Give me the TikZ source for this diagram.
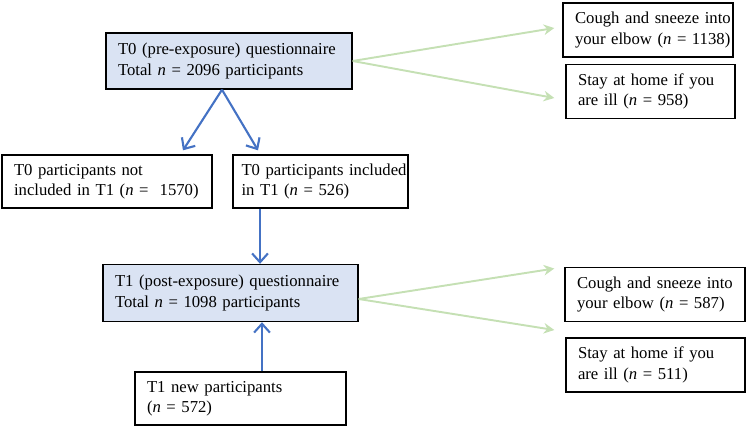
\documentclass[tikz,border=0pt]{standalone}
\usepackage{fontspec}
\setmainfont{Liberation Serif}
\usetikzlibrary{arrows.meta}

\definecolor{qfill}{RGB}{218,227,243}
\definecolor{flowblue}{RGB}{68,114,196}
\definecolor{flowgreen}{RGB}{197,224,180}

\tikzset{
  flowbox/.style={draw=black, line width=0.8pt, inner xsep=0.24cm, inner ysep=2pt,
    align=left, minimum height=1.08cm,
    execute at begin node={\rightskip=-1cm plus 1fil}},
  qbox/.style={flowbox, fill=qfill, minimum height=1.12cm},
  bluearrow/.style={draw=flowblue, line width=1.2pt, -{Straight Barb[length=5pt,width=9pt]}},
  greenarrow/.style={draw=flowgreen, line width=1.1pt, -{Stealth[length=6pt,width=6pt]}},
}

\begin{document}
\begin{tikzpicture}[x=0.02cm, y=-0.02cm, font=\fontsize{9.5}{11.6}\selectfont]
        \useasboundingbox (0,0) rectangle (750,430);

        % T0 questionnaire and its messages
        \node[qbox, text width=4.44cm] (tzero) at (229,61) {T0 (pre-exposure) questionnaire\\Total \textit{n} = 2096 participants};
        \node[flowbox, text width=2.92cm] (coughzero) at (648,30) {Cough and sneeze into\\your elbow (\textit{n} = 1138)};
        \node[flowbox, text width=2.90cm] (stayzero) at (650.5,91.5) {Stay at home if you\\are ill (\textit{n} = 958)};

        % Split of the T0 participants
        \node[flowbox, text width=3.72cm, minimum height=1.06cm] (notincl) at (107,181.5) {T0 participants not\\included in T1 (\textit{n} = \ 1570)};
        \node[flowbox, inner xsep=0.17cm, text width=3.16cm, minimum height=1.06cm] (incl) at (320.5,181.5) {T0 participants included\\in T1 (\textit{n} = 526)};

        % T1 questionnaire and its messages
        \node[qbox, text width=4.62cm, minimum height=1.14cm] (tone) at (230.5,293) {T1 (post-exposure) questionnaire\\Total \textit{n} = 1098 participants};
        \node[flowbox, text width=3.12cm] (coughone) at (655,294.5) {Cough and sneeze into\\your elbow (\textit{n} = 587)};
        \node[flowbox, text width=3.10cm] (stayone) at (655.5,365) {Stay at home if you\\are ill (\textit{n} = 511)};
        \node[flowbox, text width=3.74cm, minimum height=1.06cm] (tonenew) at (240.5,398.5) {T1 new participants\\(\textit{n} = 572)};

        % Blue arrows
        \draw[bluearrow] ([xshift=-0.14cm]tzero.south) -- ([xshift=1.52cm, yshift=0.08cm]notincl.north);
        \draw[bluearrow] ([xshift=-0.14cm]tzero.south) -- ([xshift=-1.25cm, yshift=0.08cm]incl.north);
        \draw[bluearrow] ([xshift=-1.21cm]incl.south) -- ([xshift=-1.21cm]incl.south |- tone.north);
        \draw[bluearrow] ([xshift=0.43cm]tonenew.north) -- ([xshift=0.43cm]tonenew.north |- tone.south);

        % Green arrows
        \draw[greenarrow] (tzero.east) -- ([xshift=-0.16cm, yshift=0.04cm]coughzero.west);
        \draw[greenarrow] (tzero.east) -- ([xshift=-0.22cm, yshift=-0.13cm]stayzero.west);
        \draw[greenarrow] ([yshift=-0.12cm]tone.east) -- ([xshift=-0.2cm, yshift=0.52cm]coughone.west);
        \draw[greenarrow] ([yshift=-0.12cm]tone.east) -- ([xshift=-0.22cm, yshift=0.7cm]stayone.west);
      \end{tikzpicture}
\end{document}
